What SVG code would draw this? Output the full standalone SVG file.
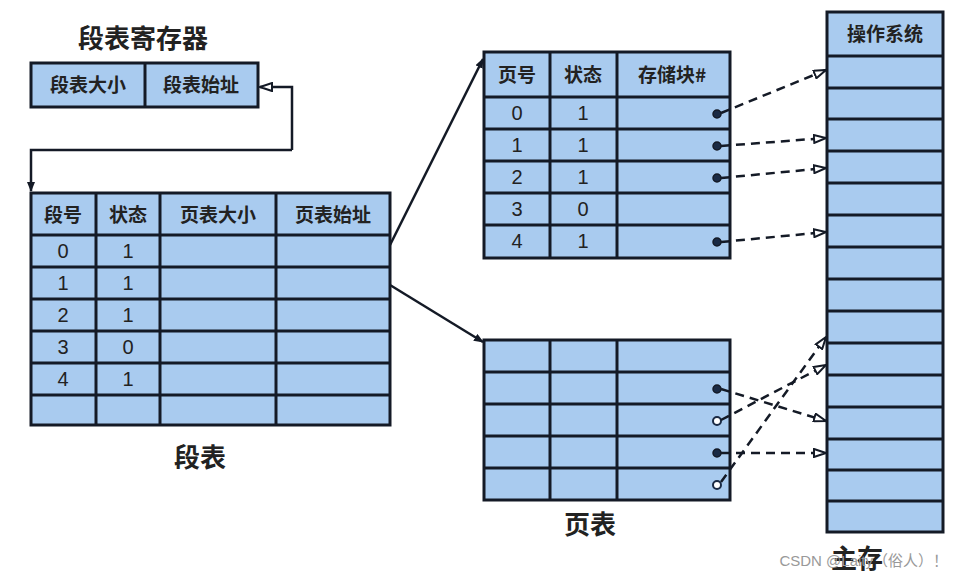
<svg xmlns="http://www.w3.org/2000/svg" width="964" height="584" viewBox="0 0 964 584">
<style>
.c{fill:#a9cbef;stroke:#141a26;stroke-width:3}
.l{stroke:#141a26;stroke-width:3}
.t{font-family:"Noto Sans CJK SC","Liberation Sans",sans-serif;font-size:19px;font-weight:bold;fill:#222;text-anchor:middle}
.n{font-family:"Liberation Sans",sans-serif;font-size:20px;fill:#222;text-anchor:middle}
.big{font-family:"Noto Sans CJK SC",sans-serif;font-size:26px;font-weight:bold;fill:#222;text-anchor:middle}
.s{fill:none;stroke:#141a26;stroke-width:2.5}
.d{fill:none;stroke:#141a26;stroke-width:2.5;stroke-dasharray:9 6}
.dot{fill:#1a2a44;stroke:#141a26;stroke-width:1.5}
</style>
<defs>
<marker id="a" markerWidth="10" markerHeight="8" refX="9" refY="4" orient="auto" markerUnits="userSpaceOnUse"><path d="M0,0L10,4L0,8z" fill="#141a26"/></marker>
<marker id="o" markerWidth="14" markerHeight="10" refX="13" refY="5" orient="auto" markerUnits="userSpaceOnUse"><path d="M1,1L13,5L1,9z" fill="#fff" stroke="#141a26" stroke-width="2"/></marker>
</defs>
<rect width="964" height="584" fill="#fff"/>
<g id="reg">
<text class="big" x="143" y="48">段表寄存器</text>
<rect class="c" x="31" y="63" width="227" height="44"/>
<line class="l" x1="145" y1="63" x2="145" y2="107"/>
<text class="t" x="88" y="92">段表大小</text>
<text class="t" x="201" y="92">段表始址</text>
</g>
<g id="segtable">
<rect class="c" x="31" y="193" width="359" height="232"/>
<g class="l">
<line x1="31" y1="235" x2="390" y2="235"/><line x1="31" y1="267" x2="390" y2="267"/><line x1="31" y1="299" x2="390" y2="299"/><line x1="31" y1="331" x2="390" y2="331"/><line x1="31" y1="363" x2="390" y2="363"/><line x1="31" y1="395" x2="390" y2="395"/>
<line x1="96" y1="193" x2="96" y2="425"/><line x1="160" y1="193" x2="160" y2="425"/><line x1="276" y1="193" x2="276" y2="425"/>
</g>
<text class="t" x="63" y="222">段号</text><text class="t" x="128" y="222">状态</text><text class="t" x="218" y="222">页表大小</text><text class="t" x="333" y="222">页表始址</text>
<text class="n" x="63" y="258">0</text><text class="n" x="128" y="258">1</text>
<text class="n" x="63" y="290">1</text><text class="n" x="128" y="290">1</text>
<text class="n" x="63" y="322">2</text><text class="n" x="128" y="322">1</text>
<text class="n" x="63" y="354">3</text><text class="n" x="128" y="354">0</text>
<text class="n" x="63" y="386">4</text><text class="n" x="128" y="386">1</text>
<text class="big" x="200" y="467">段表</text>
</g>
<g id="pt1">
<rect class="c" x="484" y="52" width="246" height="206"/>
<g class="l">
<line x1="484" y1="97" x2="730" y2="97"/><line x1="484" y1="129" x2="730" y2="129"/><line x1="484" y1="161" x2="730" y2="161"/><line x1="484" y1="193" x2="730" y2="193"/><line x1="484" y1="225" x2="730" y2="225"/>
<line x1="550" y1="52" x2="550" y2="258"/><line x1="617" y1="52" x2="617" y2="258"/>
</g>
<text class="t" x="517" y="82">页号</text><text class="t" x="583" y="82">状态</text><text class="t" x="672" y="82">存储块#</text>
<text class="n" x="517" y="120">0</text><text class="n" x="583" y="120">1</text>
<text class="n" x="517" y="152">1</text><text class="n" x="583" y="152">1</text>
<text class="n" x="517" y="184">2</text><text class="n" x="583" y="184">1</text>
<text class="n" x="517" y="216">3</text><text class="n" x="583" y="216">0</text>
<text class="n" x="517" y="248">4</text><text class="n" x="583" y="248">1</text>
<circle class="dot" cx="717" cy="114" r="4"/><circle class="dot" cx="717" cy="146" r="4"/><circle class="dot" cx="717" cy="178" r="4"/><circle class="dot" cx="717" cy="242" r="4"/>
</g>
<g id="pt2">
<rect class="c" x="484" y="340" width="246" height="160"/>
<g class="l">
<line x1="484" y1="372" x2="730" y2="372"/><line x1="484" y1="404" x2="730" y2="404"/><line x1="484" y1="436" x2="730" y2="436"/><line x1="484" y1="468" x2="730" y2="468"/>
<line x1="550" y1="340" x2="550" y2="500"/><line x1="617" y1="340" x2="617" y2="500"/>
</g>
<circle class="dot" cx="717" cy="389" r="4"/><circle cx="717" cy="421" r="4" fill="#fff" stroke="#1a2a44" stroke-width="2"/><circle class="dot" cx="717" cy="453" r="4"/><circle cx="717" cy="485" r="4" fill="#fff" stroke="#1a2a44" stroke-width="2"/>
<text class="big" x="590" y="534">页表</text>
</g>
<g id="mem">
<rect class="c" x="827" y="12" width="116" height="520"/>
<g class="l">
<line x1="827" y1="56" x2="943" y2="56"/><line x1="827" y1="88" x2="943" y2="88"/><line x1="827" y1="119" x2="943" y2="119"/><line x1="827" y1="151" x2="943" y2="151"/><line x1="827" y1="183" x2="943" y2="183"/><line x1="827" y1="215" x2="943" y2="215"/><line x1="827" y1="247" x2="943" y2="247"/><line x1="827" y1="279" x2="943" y2="279"/><line x1="827" y1="311" x2="943" y2="311"/><line x1="827" y1="343" x2="943" y2="343"/><line x1="827" y1="375" x2="943" y2="375"/><line x1="827" y1="407" x2="943" y2="407"/><line x1="827" y1="439" x2="943" y2="439"/><line x1="827" y1="470" x2="943" y2="470"/><line x1="827" y1="501" x2="943" y2="501"/>
</g>
<text class="t" x="885" y="41">操作系统</text>
<text class="big" x="857" y="568">主存</text>
</g>
<g id="connectors">
<path class="s" d="M292,150V87H260" marker-end="url(#o)"/>
<path class="s" d="M292,150H31V191" marker-end="url(#a)"/>
<path class="s" d="M390,245L483,59" marker-end="url(#a)"/>
<path class="s" d="M390,285L483,342" marker-end="url(#a)"/>
<path class="d" d="M721,113L826,70" marker-end="url(#o)"/>
<path class="d" d="M721,146L826,138" marker-end="url(#o)"/>
<path class="d" d="M721,178L826,168" marker-end="url(#o)"/>
<path class="d" d="M721,242L826,232" marker-end="url(#o)"/>
<path class="d" d="M721,389L826,421" marker-end="url(#o)"/>
<path class="d" d="M721,420L826,365" marker-end="url(#o)"/>
<path class="d" d="M721,453L826,453" marker-end="url(#o)"/>
<path class="d" d="M721,482L826,337" marker-end="url(#o)"/>
</g>
<text x="948" y="566" font-family="Liberation Sans,Noto Sans CJK SC,sans-serif" font-size="15" fill="#999" text-anchor="end">CSDN @Laity（俗人）！</text>
</svg>
